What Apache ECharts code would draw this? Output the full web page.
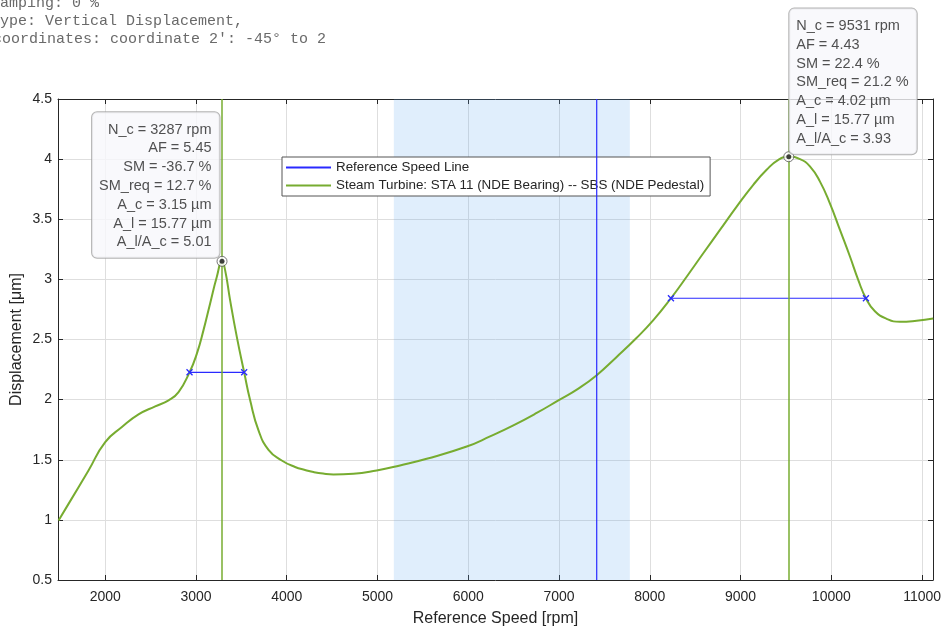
<!DOCTYPE html>
<html>
<head>
<meta charset="utf-8">
<script src="https://cdn.jsdelivr.net/npm/echarts@6/dist/echarts.min.js"></script>
<style>
  html, body { margin: 0; padding: 0; background: #fff; }
  #chart { width: 944px; height: 628px; }
</style>
</head>
<body>
<div id="chart"></div>
<script>
// curve: displacement vs reference speed
const speeds = [1486, 1596, 1816, 2000, 2184, 2367, 2551, 2698, 2808, 2929, 3010, 3083, 3156, 3230, 3287,
  3321, 3376, 3450, 3531, 3597, 3689, 3799, 3945, 4092, 4202, 4294, 4400, 4514, 4734, 4991, 5248, 5542, 5983,
  6240, 6497, 6754, 6993, 7213, 7415, 7635, 7850, 8039, 8233, 8406, 8589, 8773, 8957, 9140, 9287, 9416,
  9531, 9654, 9764, 9875, 9985, 10095, 10205, 10297, 10381, 10480, 10609, 10756, 10939, 11122]
const displacement = [0.994, 1.133, 1.411, 1.647, 1.772, 1.877, 1.944, 1.994, 2.063, 2.227, 2.383, 2.578, 2.80, 3.022, 3.15,
  3.077, 2.828, 2.522, 2.227, 1.994, 1.744, 1.583, 1.494, 1.44, 1.415, 1.398, 1.385, 1.378, 1.383, 1.411, 1.453, 1.508, 1.61,
  1.694, 1.786, 1.889, 1.994, 2.092, 2.203, 2.355, 2.51, 2.661, 2.843, 3.022, 3.217, 3.411, 3.605, 3.786, 3.911, 3.994,
  4.02, 4.0, 3.94, 3.813, 3.63, 3.411, 3.19, 2.994, 2.843, 2.735, 2.672, 2.647, 2.656, 2.675]

// critical speeds and half power bands
const peakSpeeds = [3287, 9531]
const peakAmps = [3.15, 4.02]
const hpLow = [2929, 8233]
const hpHigh = [3531, 10381]
const hpAmps = [2.227, 2.843]
const peakTexts = [
  ['N_c = 3287 rpm', 'AF = 5.45', 'SM = -36.7 %', 'SM_req = 12.7 %', 'A_c = 3.15 µm', 'A_l = 15.77 µm', 'A_l/A_c = 5.01'],
  ['N_c = 9531 rpm', 'AF = 4.43', 'SM = 22.4 %', 'SM_req = 21.2 %', 'A_c = 4.02 µm', 'A_l = 15.77 µm', 'A_l/A_c = 3.93']
]

const refSpeed = 7415
const bandRange = [5180, 7780]
const xRange = [1480, 11120]
const yRange = [0.5, 4.5]
const headerLines = ['Damping: 0 %', 'Type: Vertical Displacement,', 'coordinates: coordinate 2\': -45° to 2']

const green = '#77ac30'
const blue = '#2a2aff'
const axisColor = '#262626'
const font = '"Liberation Sans", Arial, sans-serif'

const chart = echarts.init(document.getElementById('chart'))

const hpSeries = hpLow.map((lo, i) => ({
  type: 'line',
  name: 'hp' + i,
  data: [[lo, hpAmps[i]], [hpHigh[i], hpAmps[i]]],
  symbol: 'path://M0,0L10,10M10,0L0,10',
  symbolSize: 6,
  lineStyle: { color: blue, width: 1.2 },
  itemStyle: { color: blue, borderColor: blue, borderWidth: 1.3 },
  z: 4,
  silent: true
}))

const peakLabel = (i) => ({
  show: true,
  formatter: peakTexts[i].join('\n'),
  fontFamily: font,
  fontSize: 14.5,
  lineHeight: 18.8,
  color: axisColor,
  backgroundColor: '#f8f8fb',
  borderColor: '#a0a0a0',
  borderWidth: 1,
  borderRadius: 5,
  padding: [8, 8, 6, 7],
  align: i === 0 ? 'right' : 'left',
  verticalAlign: 'bottom',
  position: i === 0 ? [3, 2] : [6, 3]
})

const option = {
  backgroundColor: '#fff',
  animation: false,
  textStyle: { fontFamily: font },
  graphic: headerLines.map((t, i) => ({
    type: 'text',
    left: i === 2 ? -7 : -9,
    top: -4 + i * 17.7,
    style: { text: t, font: '15px "Liberation Mono", monospace', fill: '#6a6a6a' }
  })),
  grid: { left: 58, right: 11, top: 99, bottom: 48, outerBoundsMode: 'none' },
  legend: {
    data: ['Reference Speed Line', 'Steam Turbine: STA 11 (NDE Bearing) -- SBS (NDE Pedestal)'],
    orient: 'vertical',
    left: 282,
    top: 157,
    itemWidth: 45,
    itemHeight: 13,
    itemGap: 5,
    padding: [4, 6, 4, 3],
    borderColor: '#555',
    borderWidth: 1,
    backgroundColor: '#fff',
    itemStyle: { opacity: 0 },
    textStyle: { fontSize: 13.4, color: axisColor, fontFamily: font }
  },
  xAxis: [{
    type: 'value',
    min: xRange[0],
    max: xRange[1],
    splitNumber: 10,
    name: 'Reference Speed [rpm]',
    nameLocation: 'middle',
    nameGap: 31,
    nameMoveOverlap: false,
    nameTextStyle: { fontSize: 16, color: axisColor },
    axisLine: { lineStyle: { color: axisColor } },
    axisTick: { inside: true, length: 5, lineStyle: { color: axisColor } },
    axisLabel: {
      fontSize: 14, color: axisColor, margin: 10,
      formatter: v => (v % 1000 === 0 ? String(v) : '')
    },
    splitLine: { show: true, lineStyle: { color: '#dedede' } }
  }, {
    type: 'value',
    position: 'top',
    min: xRange[0],
    max: xRange[1],
    splitNumber: 10,
    axisLine: { lineStyle: { color: axisColor } },
    axisTick: { inside: true, length: 5, lineStyle: { color: axisColor } },
    axisLabel: { show: false },
    splitLine: { show: false }
  }],
  yAxis: [{
    type: 'value',
    min: yRange[0],
    max: yRange[1],
    interval: 0.5,
    name: 'Displacement [μm]',
    nameLocation: 'middle',
    nameGap: 33,
    nameMoveOverlap: false,
    nameTextStyle: { fontSize: 16, color: axisColor },
    axisLine: { show: true, lineStyle: { color: axisColor } },
    axisTick: { show: true, inside: true, length: 5, lineStyle: { color: axisColor } },
    axisLabel: { fontSize: 14, color: axisColor, margin: 6 },
    splitLine: { show: true, lineStyle: { color: '#dedede' } }
  }, {
    type: 'value',
    position: 'right',
    min: yRange[0],
    max: yRange[1],
    interval: 0.5,
    axisLine: { show: true, lineStyle: { color: axisColor } },
    axisTick: { show: true, inside: true, length: 5, lineStyle: { color: axisColor } },
    axisLabel: { show: false },
    splitLine: { show: false }
  }],
  series: [{
    type: 'line',
    name: 'Reference Speed Line',
    data: [[refSpeed, yRange[0]], [refSpeed, yRange[1]]],
    symbol: 'none',
    lineStyle: { color: blue, width: 1.2 },
    itemStyle: { color: blue },
    z: 10
  }, {
    type: 'line',
    name: 'Steam Turbine: STA 11 (NDE Bearing) -- SBS (NDE Pedestal)',
    data: speeds.map((s, i) => [s, displacement[i]]),
    symbol: 'none',
    smooth: 0.5,
    lineStyle: { color: green, width: 2 },
    itemStyle: { color: green },
    z: 3,
    markArea: {
      silent: true,
      itemStyle: { color: 'rgba(100,170,240,0.2)' },
      data: [[{ xAxis: bandRange[0] }, { xAxis: bandRange[1] }]]
    },
    markLine: {
      silent: true,
      symbol: 'none',
      label: { show: false },
      lineStyle: { color: green, width: 1.5, type: 'solid' },
      data: peakSpeeds.map(s => ({ xAxis: s }))
    }
  },
  ...hpSeries,
  {
    type: 'scatter',
    name: 'peaks',
    data: peakSpeeds.map((s, i) => ({ value: [s, peakAmps[i]], label: peakLabel(i) })),
    symbol: 'circle',
    symbolSize: 10,
    itemStyle: { color: '#fff', borderColor: '#555', borderWidth: 1 },
    z: 11
  }, {
    type: 'scatter',
    name: 'peakDots',
    data: peakSpeeds.map((s, i) => [s, peakAmps[i]]),
    symbol: 'circle',
    symbolSize: 5,
    itemStyle: { color: '#111' },
    z: 12
  }]
}

chart.setOption(option)
</script>
</body>
</html>
